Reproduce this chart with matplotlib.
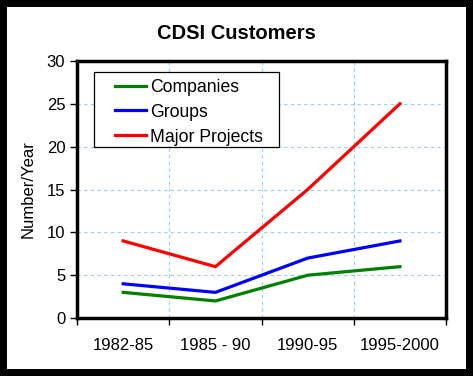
import matplotlib.pyplot as plt
from matplotlib.patches import Rectangle
import numpy as np

periods = ['1982-85', '1985 - 90', '1990-95', '1995-2000']
companies = [3, 2, 5, 6]
groups = [4, 3, 7, 9]
major_projects = [9, 6, 15, 25]

plt.rcParams['font.family'] = ['Liberation Sans', 'DejaVu Sans']

fig = plt.figure(figsize=(4.73, 3.76), dpi=100)
fig.patch.set_facecolor('white')
fig.patch.set_edgecolor('black')
fig.patch.set_linewidth(10)

ax = fig.add_axes([0.163, 0.154, 0.780, 0.684])

x = np.arange(len(periods)) + 0.5
ax.plot(x, companies, color='#008000', lw=2.3, label='Companies')
ax.plot(x, groups, color='#0000FF', lw=2.3, label='Groups')
ax.plot(x, major_projects, color='#FF0000', lw=2.3, label='Major Projects')

ax.set_xlim(0, 4)
ax.set_ylim(0, 30)
ax.set_xticks(np.arange(5))
ax.set_xticklabels([])
ax.set_xticks(x, minor=True)
ax.set_xticklabels(periods, minor=True, fontsize=12)
ax.tick_params(axis='x', which='minor', length=0, pad=14)
ax.tick_params(axis='x', which='major', length=5, width=1, direction='out')
ax.set_yticks(np.arange(0, 31, 5))
ax.tick_params(axis='y', labelsize=12, length=5, width=1, direction='out')

ax.grid(True, which='major', color='#99CCFF', linestyle=(0, (3, 3)), lw=0.8)
ax.set_axisbelow(True)
for s in ax.spines.values():
    s.set_linewidth(2.5)

ax.set_ylabel('Number/Year', fontsize=12, labelpad=8)
fig.text(0.5, 0.91, 'CDSI Customers', ha='center', va='center',
         fontsize=14.5, fontweight='bold')

# legend frame drawn by hand so the padding matches
ax.add_patch(Rectangle((0.046, 0.665), 0.501, 0.292, transform=ax.transAxes,
                       facecolor='white', edgecolor='black', lw=0.9, zorder=4))
leg = ax.legend(loc='upper left', bbox_to_anchor=(0.078, 0.965), fontsize=12.7,
                frameon=False, borderpad=0, handlelength=1.75,
                labelspacing=0.45, handletextpad=0.25)
leg.set_zorder(5)

fig.savefig('out.png', dpi=100)
